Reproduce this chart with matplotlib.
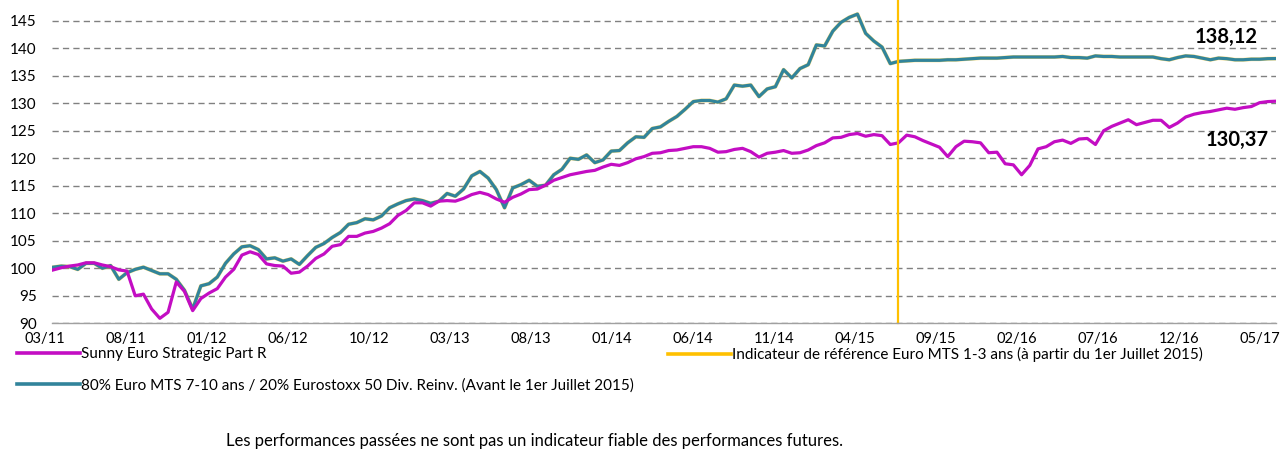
import numpy as np
import matplotlib
matplotlib.use("Agg")
import matplotlib.pyplot as plt
from matplotlib.lines import Line2D
from matplotlib.transforms import blended_transform_factory

plt.rcParams["font.family"] = ["Lato", "DejaVu Sans"]

# half-month sampling, months counted from 03/2011
months = np.arange(1, 151) * 0.5

fund = [
    99.7, 100.1, 100.4, 100.6, 101.0, 101.0, 100.6, 100.3, 99.7, 99.5,
    95.0, 95.3, 92.6, 90.9, 92.0, 97.5, 95.8, 92.3, 94.5, 95.5,
    96.3, 98.4, 99.8, 102.4, 103.0, 102.5, 100.8, 100.5, 100.4, 99.1,
    99.3, 100.4, 101.8, 102.6, 104.0, 104.3, 105.8, 105.8, 106.4, 106.7,
    107.3, 108.1, 109.6, 110.5, 111.9, 111.9, 111.3, 112.2, 112.3, 112.2,
    112.7, 113.4, 113.8, 113.4, 112.6, 112.0, 112.9, 113.5, 114.3, 114.4,
    115.1, 116.0, 116.5, 117.0, 117.3, 117.6, 117.8, 118.4, 118.9, 118.7,
    119.2, 119.9, 120.3, 120.9, 121.0, 121.4, 121.5, 121.8, 122.1, 122.1,
    121.8, 121.1, 121.2, 121.6, 121.8, 121.2, 120.2, 120.9, 121.1, 121.4,
    120.9, 121.0, 121.5, 122.3, 122.8, 123.7, 123.8, 124.3, 124.5, 124.0,
    124.3, 124.1, 122.5, 122.8, 124.2, 123.9, 123.2, 122.6, 122.0, 120.3,
    122.1, 123.1, 123.0, 122.8, 121.0, 121.1, 119.0, 118.8, 117.0, 118.7,
    121.7, 122.1, 123.0, 123.3, 122.7, 123.5, 123.6, 122.5, 125.0, 125.8,
    126.4, 127.0, 126.1, 126.5, 126.9, 126.9, 125.6, 126.4, 127.5, 128.0,
    128.3, 128.5, 128.8, 129.1, 128.9, 129.2, 129.4, 130.1, 130.3, 130.37,
]

bench = [
    100.2, 100.4, 100.3, 99.8, 100.9, 100.9, 100.0, 100.5, 98.0, 99.2,
    99.8, 100.2, 99.6, 99.0, 99.0, 98.0, 96.0, 92.6, 96.8, 97.2,
    98.4, 100.9, 102.6, 103.9, 104.1, 103.4, 101.7, 101.9, 101.3, 101.7,
    100.7, 102.3, 103.8, 104.5, 105.6, 106.5, 108.0, 108.3, 109.0, 108.8,
    109.5, 111.0, 111.7, 112.3, 112.6, 112.3, 111.8, 112.2, 113.6, 113.1,
    114.4, 116.8, 117.6, 116.4, 114.3, 111.0, 114.6, 115.2, 116.0, 114.9,
    115.1, 117.0, 118.0, 120.0, 119.8, 120.6, 119.2, 119.7, 121.3, 121.4,
    122.8, 123.9, 123.8, 125.4, 125.7, 126.7, 127.6, 128.9, 130.3, 130.5,
    130.5, 130.2, 130.8, 133.3, 133.1, 133.3, 131.2, 132.6, 133.0, 136.1,
    134.6, 136.3, 137.0, 140.6, 140.4, 143.1, 144.7, 145.6, 146.2, 142.7,
    141.3, 140.2, 137.2, 137.6, 137.7, 137.8, 137.8, 137.8, 137.8, 137.9,
    137.9, 138.0, 138.1, 138.2, 138.2, 138.2, 138.3, 138.4, 138.4, 138.4,
    138.4, 138.4, 138.4, 138.5, 138.3, 138.3, 138.2, 138.6, 138.5, 138.5,
    138.4, 138.4, 138.4, 138.4, 138.4, 138.1, 137.9, 138.3, 138.6, 138.5,
    138.2, 137.9, 138.2, 138.1, 137.9, 137.9, 138.0, 138.0, 138.1, 138.12,
]

tick_labels = ["03/11", "08/11", "01/12", "06/12", "10/12", "03/13", "08/13",
               "01/14", "06/14", "11/14", "04/15", "09/15", "02/16", "07/16",
               "12/16", "05/17"]

switch_month = 52.0  # 1er Juillet 2015

names = ["Sunny Euro Strategic Part R",
         "Indicateur de référence Euro MTS 1-3 ans (à partir du 1er Juillet 2015)",
         "80% Euro MTS 7-10 ans / 20% Eurostoxx 50 Div. Reinv. (Avant le 1er Juillet 2015)"]

MAGENTA = "#C30DC3"
TEAL = "#31849B"
YELLOW = "#FFC000"

fig = plt.figure(figsize=(12.8, 4.5), dpi=100)
ax = fig.add_axes([52 / 1280, 1 - 323.3 / 450, 1224 / 1280, 313.6 / 450])

ax.plot(months, bench, color=YELLOW, lw=2.8, alpha=0.5, solid_capstyle="round")
ax.plot(months, bench, color=TEAL, lw=2.3, solid_joinstyle="round")
ax.plot(months, fund, color=MAGENTA, lw=2.3, solid_joinstyle="round")
ax.axvline(switch_month, ymin=0, ymax=1.031, color=YELLOW, lw=1.6, clip_on=False)

ax.set_xlim(0.43, 75.0)
ax.set_ylim(90, 147)
ax.set_yticks(np.arange(90, 150, 5))
ax.set_xticks([])
ax.grid(axis="y", color="#808080", linestyle=(0, (4.5, 3)), linewidth=1.0)
ax.set_axisbelow(True)
for side in ["left", "right", "top"]:
    ax.spines[side].set_visible(False)
ax.spines["bottom"].set_color("#a0a0a0")
ax.spines["bottom"].set_linewidth(1.0)
ax.tick_params(axis="y", length=0, pad=11, labelsize=11, labelcolor="#000000")

# date labels along the bottom, evenly spaced
trans = blended_transform_factory(ax.transData, ax.transAxes)
label_pos = np.arange(len(tick_labels)) * 74 / 15
for pos, lab in zip(label_pos, tick_labels):
    ax.text(pos, -0.051, lab, transform=trans, ha="center", va="center",
            fontsize=10.5, clip_on=False)

# final values
ax.annotate(f"{bench[-1]:.2f}".replace(".", ","), xy=(months[-1], bench[-1]),
            xytext=(-50, 22), textcoords="offset pixels", ha="center",
            va="center", fontsize=14.5, fontweight="bold")
ax.annotate(f"{fund[-1]:.2f}".replace(".", ","), xy=(months[-1], fund[-1]),
            xytext=(-39, -39), textcoords="offset pixels", ha="center",
            va="center", fontsize=14.5, fontweight="bold")

h_fund = Line2D([], [], color=MAGENTA, lw=2.6)
h_ref = Line2D([], [], color=YELLOW, lw=2.6)
h_bench = Line2D([], [], color=TEAL, lw=2.6)
leg_kw = dict(loc="upper left", frameon=False, fontsize=11, handlelength=4.1,
              handletextpad=0.12, labelspacing=1.12, borderpad=0,
              borderaxespad=0)
fig.legend([h_fund, h_bench], [names[0], names[2]],
           bbox_to_anchor=(17 / 1280, 1 - 347 / 450), **leg_kw)
fig.legend([h_ref], [names[1]], bbox_to_anchor=(668 / 1280, 1 - 347 / 450),
           **leg_kw)

fig.text(535 / 1280, 1 - 441 / 450,
         "Les performances passées ne sont pas un indicateur fiable des performances futures.",
         ha="center", va="center", fontsize=12)

fig.savefig("out.png", dpi=100)
